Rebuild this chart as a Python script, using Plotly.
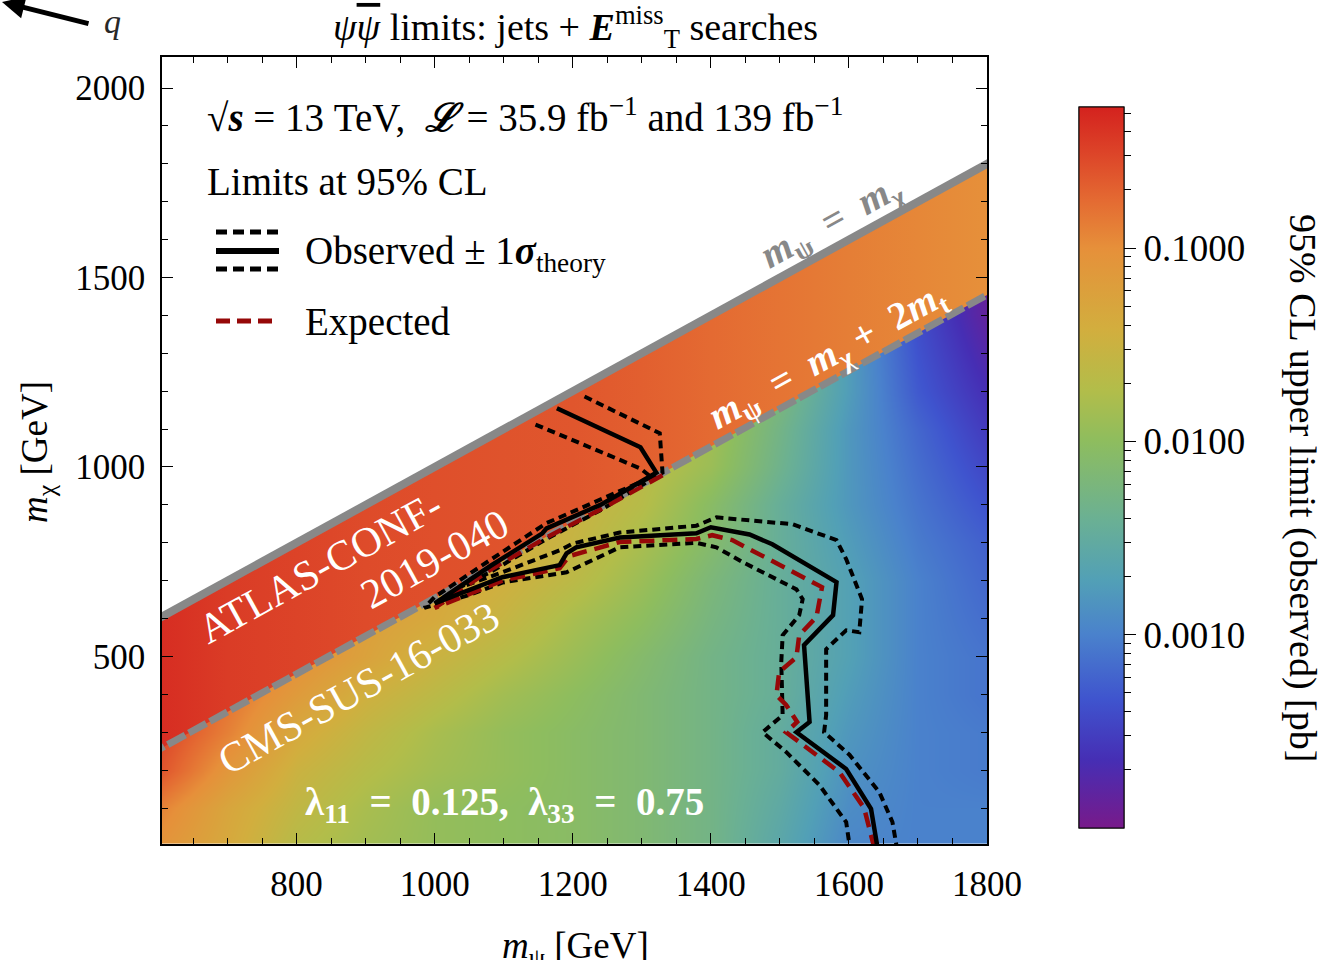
import numpy as np
import plotly.graph_objects as go
from plotly.colors import sample_colorscale

# ---------------- data ----------------
# CMS grid: 95% CL observed upper limit, stored as log10(sigma / pb)
cms_mpsi = [600, 700, 800, 900, 1000, 1100, 1200, 1300, 1400, 1500, 1600, 1700, 1800]
cms_mchi = [0, 100, 200, 300, 400, 500, 600, 700, 800, 900, 1000, 1100, 1200, 1300, 1400, 1500]
cms_log10_limit = [
    [-1.05, -1.35, -1.70, -1.85, -1.95, -2.00, -2.05, -2.15, -2.30, -2.60, -2.95, -3.00, -3.00],
    [-0.90, -1.30, -1.60, -1.80, -1.95, -2.00, -2.05, -2.15, -2.30, -2.55, -2.90, -3.00, -3.00],
    [-0.60, -1.10, -1.50, -1.70, -1.85, -1.95, -2.05, -2.15, -2.30, -2.50, -2.85, -3.00, -3.05],
    [-0.50, -0.90, -1.35, -1.60, -1.80, -1.95, -2.05, -2.15, -2.30, -2.50, -2.80, -3.00, -3.05],
    [-0.45, -0.80, -1.15, -1.45, -1.65, -1.85, -2.00, -2.15, -2.30, -2.45, -2.75, -3.00, -3.10],
    [-0.40, -0.70, -1.00, -1.25, -1.50, -1.70, -1.90, -2.10, -2.30, -2.45, -2.70, -3.00, -3.10],
    [-0.40, -0.65, -0.95, -1.20, -1.35, -1.55, -1.80, -2.00, -2.25, -2.45, -2.70, -3.00, -3.15],
    [-0.40, -0.60, -0.90, -1.15, -1.30, -1.45, -1.65, -1.90, -2.20, -2.45, -2.70, -3.00, -3.20],
    [-0.40, -0.60, -0.85, -1.10, -1.30, -1.40, -1.55, -1.80, -2.10, -2.45, -2.75, -3.05, -3.25],
    [-0.40, -0.60, -0.85, -1.10, -1.30, -1.40, -1.50, -1.70, -2.05, -2.45, -2.80, -3.10, -3.35],
    [-0.40, -0.60, -0.85, -1.10, -1.30, -1.40, -1.50, -1.65, -1.90, -2.35, -2.80, -3.15, -3.45],
    [-0.40, -0.60, -0.85, -1.10, -1.30, -1.40, -1.50, -1.65, -1.85, -2.30, -2.80, -3.20, -3.55],
    [-0.40, -0.60, -0.85, -1.10, -1.30, -1.40, -1.50, -1.65, -1.90, -2.20, -2.75, -3.30, -3.65],
    [-0.40, -0.60, -0.85, -1.10, -1.30, -1.40, -1.50, -1.65, -1.90, -2.20, -2.75, -3.35, -3.75],
    [-0.40, -0.60, -0.85, -1.10, -1.30, -1.40, -1.50, -1.65, -1.90, -2.20, -2.75, -3.40, -3.85],
    [-0.40, -0.60, -0.85, -1.10, -1.30, -1.40, -1.50, -1.65, -1.90, -2.20, -2.75, -3.40, -3.90],
]

# ATLAS band (between m_psi = m_chi and m_psi = m_chi + 2 m_t): log10(limit / pb) along m_psi
atlas_mpsi = [605, 700, 800, 900, 1000, 1100, 1200, 1300, 1400, 1500, 1600, 1700, 1800]
atlas_log10_limit = [-0.35, -0.45, -0.50, -0.55, -0.58, -0.60, -0.62, -0.68, -0.75, -0.82, -0.88, -0.94, -1.00]

m_top = 173.0
line_mpsi = [400, 2000]

# Observed contour
obs_mpsi = [1177, 1298, 1321, 1240, 1162, 1156, 1080, 1000, 1098, 1181, 1191, 1205, 1268, 1379, 1400,
            1456, 1489, 1582, 1577, 1535, 1543, 1524, 1596, 1632, 1641]
obs_mchi = [1155, 1052, 985, 900, 838, 825, 738, 640, 709, 741, 772, 788, 814, 825, 841,
            822, 796, 696, 609, 530, 327, 300, 203, 98, 0]
# Observed + 1 sigma(theory)
obs_up_mpsi = [1217, 1326, 1330, 1240, 1162, 1080, 1036, 1098, 1181, 1200, 1268, 1379, 1408,
               1518, 1582, 1596, 1619, 1615, 1596, 1567, 1567, 1564, 1601, 1644, 1663, 1669]
obs_up_mchi = [1186, 1089, 985, 886, 810, 722, 682, 722, 780, 798, 827, 845, 867,
               849, 807, 757, 651, 564, 569, 519, 345, 300, 240, 142, 63, 0]
# Observed - 1 sigma(theory)
obs_dn_mpsi = [1146, 1298, 1314, 1240, 1162, 1080, 1000, 985, 1050, 1098, 1191, 1268, 1379, 1408,
               1446, 1524, 1533, 1528, 1504, 1502, 1504, 1475, 1509, 1557, 1596, 1601]
obs_dn_mchi = [1112, 996, 973, 914, 852, 754, 657, 628, 662, 695, 722, 788, 800, 788,
               749, 677, 651, 609, 556, 485, 345, 300, 248, 161, 63, 0]
# Expected contour
exp_mpsi = [1330, 1240, 1160, 1080, 1000, 1098, 1181, 1195, 1268, 1379, 1402, 1431, 1561, 1553,
            1528, 1524, 1499, 1495, 1509, 1525, 1509, 1553, 1586, 1622, 1636]
exp_mchi = [978, 888, 812, 728, 628, 700, 733, 765, 802, 810, 820, 807, 683, 604,
            556, 498, 459, 398, 372, 327, 300, 240, 195, 100, 0]

# colour map (log10 pb)
zmin, zmax = -4.0, -0.27
colorscale = [
    [0.000, "rgb(120,26,138)"],
    [0.094, "rgb(70,46,180)"],
    [0.178, "rgb(63,84,206)"],
    [0.269, "rgb(74,130,204)"],
    [0.344, "rgb(82,160,182)"],
    [0.427, "rgb(106,176,148)"],
    [0.537, "rgb(142,189,94)"],
    [0.607, "rgb(178,189,74)"],
    [0.691, "rgb(210,174,62)"],
    [0.804, "rgb(230,144,58)"],
    [0.871, "rgb(228,106,50)"],
    [0.940, "rgb(220,66,40)"],
    [1.000, "rgb(212,34,30)"],
]

# ---------------- layout helpers ----------------
W, H = 1339, 960
PL, PR, PT, PB = 162, 987, 57, 844
def fx(p):
    return (p - PL) / (PR - PL)
def fy(p):
    return (PB - p) / (PB - PT)

FONT = "Liberation Serif"
NB = "\u00a0"
x_range = [605, 1800]
y_range = [5, 2082]

fig = go.Figure()

# CMS heatmap
fig.add_trace(go.Heatmap(
    x=cms_mpsi, y=cms_mchi, z=cms_log10_limit, zmin=zmin, zmax=zmax,
    colorscale=colorscale, zsmooth="best", hoverinfo="skip",
    colorbar=dict(
        x=fx(1079), xanchor="left", y=(fy(107) + fy(828)) / 2, yanchor="middle",
        len=fy(107) - fy(828), lenmode="fraction", thickness=45, thicknessmode="pixels",
        xpad=0, ypad=0, outlinewidth=1, outlinecolor="black",
        ticks="outside", ticklen=12, tickwidth=1.2, tickcolor="black",
        tickvals=[-3, -2, -1], ticktext=["0.0010", "0.0100", "0.1000"],
        tickfont=dict(family=FONT, size=37, color="black"),
    ),
))

# minor ticks on the colour bar (dummy trace, same scale)
minor_vals = []
for d in range(-4, 0):
    for k in range(2, 10):
        v = d + np.log10(k)
        if zmin < v < zmax:
            minor_vals.append(float(v))
fig.add_trace(go.Scatter(
    x=[None], y=[None], mode="markers", hoverinfo="skip", showlegend=False,
    marker=dict(color=[-2], cmin=zmin, cmax=zmax, colorscale=colorscale, showscale=True,
                colorbar=dict(
                    x=fx(1079), xanchor="left", y=(fy(107) + fy(828)) / 2, yanchor="middle",
                    len=fy(107) - fy(828), lenmode="fraction", thickness=45, thicknessmode="pixels",
                    xpad=0, ypad=0, outlinewidth=1, outlinecolor="black",
                    ticks="outside", ticklen=7, tickwidth=1, tickcolor="black",
                    tickvals=minor_vals, showticklabels=False)),
))

# white region above m_psi = m_chi
fig.add_trace(go.Scatter(
    x=[line_mpsi[0], line_mpsi[1], line_mpsi[1], line_mpsi[0]],
    y=[line_mpsi[0], line_mpsi[1], 3000, 3000],
    fill="toself", fillcolor="white", mode="none", hoverinfo="skip", showlegend=False))

# ATLAS band with gradient along m_psi
t_vals = [(v - zmin) / (zmax - zmin) for v in atlas_log10_limit]
band_cols = sample_colorscale(colorscale, t_vals, colortype="rgb")
band_scale = [[(m - atlas_mpsi[0]) / (atlas_mpsi[-1] - atlas_mpsi[0]), c]
              for m, c in zip(atlas_mpsi, band_cols)]
bx = [line_mpsi[0], line_mpsi[1], line_mpsi[1], line_mpsi[0]]
by = [line_mpsi[0], line_mpsi[1], line_mpsi[1] - 2 * m_top, line_mpsi[0] - 2 * m_top]
fig.add_trace(go.Scatter(
    x=bx, y=by, fill="toself", mode="none", hoverinfo="skip", showlegend=False,
    fillgradient=dict(type="horizontal", colorscale=band_scale,
                      start=atlas_mpsi[0], stop=atlas_mpsi[-1])))

# kinematic lines
fig.add_trace(go.Scatter(x=line_mpsi, y=line_mpsi, mode="lines",
                         line=dict(color="rgb(136,136,136)", width=8), hoverinfo="skip", showlegend=False))
fig.add_trace(go.Scatter(x=line_mpsi, y=[m - 2 * m_top for m in line_mpsi], mode="lines",
                         line=dict(color="rgb(136,136,136)", width=7, dash="20px,4px"),
                         hoverinfo="skip", showlegend=False))

# contours
dot = "8px,5px"
for xs, ys in [(obs_up_mpsi, obs_up_mchi), (obs_dn_mpsi, obs_dn_mchi)]:
    fig.add_trace(go.Scatter(x=xs, y=ys, mode="lines",
                             line=dict(color="black", width=4, dash=dot),
                             hoverinfo="skip", showlegend=False))
fig.add_trace(go.Scatter(x=exp_mpsi, y=exp_mchi, mode="lines",
                         line=dict(color="rgb(150,8,8)", width=4.5, dash="15px,8px"),
                         hoverinfo="skip", showlegend=False))
fig.add_trace(go.Scatter(x=obs_mpsi, y=obs_mchi, mode="lines",
                         line=dict(color="black", width=4.5),
                         hoverinfo="skip", showlegend=False))

# ---------------- annotations ----------------
ann = []
def A(text, x, y, size=34, color="black", xanchor="center", yanchor="middle",
      angle=0, xref="paper", yref="paper"):
    ann.append(dict(text=text, x=x, y=y, xref=xref, yref=yref, showarrow=False,
                    xanchor=xanchor, yanchor=yanchor, textangle=angle,
                    font=dict(family=FONT, size=size, color=color)))

A("<i>ψ</i><span style='text-decoration:overline'><i>ψ</i></span> limits:" + NB + "jets + "
  "<b><i>E</i></b><sup>miss</sup><sub>T</sub> searches",
  fx(575), fy(27), size=38)
A("√<b><i>s</i></b> = 13" + NB + "TeV," + NB + NB + "<b><i>ℒ</i></b> = 35.9" + NB + "fb<sup>−1</sup> and 139" + NB + "fb<sup>−1</sup>",
  fx(205), fy(115), size=39, xanchor="left")
A("Limits at 95% CL", fx(205), fy(182), size=39, xanchor="left")
A("Observed ± 1<b><i>σ</i></b><sub>theory</sub>", fx(303), fy(254), size=39, xanchor="left")
A("Expected", fx(303), fy(322), size=39, xanchor="left")

angle = -28.8
eq = NB + "=" + NB
A("<b><i>m</i><sub>ψ</sub>" + NB + eq + NB + "<i>m</i><sub>χ</sub></b>", 1576, 1645, size=39,
  color="rgb(136,136,136)", angle=angle, xref="x", yref="y")
A("<b><i>m</i><sub>ψ</sub>" + NB + eq + NB + "<i>m</i><sub>χ</sub>" + NB + "+" + NB + NB + "2<i>m</i><sub>t</sub></b>",
  1569, 1290, size=39, color="white", angle=angle, xref="x", yref="y")
A("ATLAS-CONF-", 835, 735, size=42, color="white", angle=angle, xref="x", yref="y")
A("2019-040", 1000, 758, size=42, color="white", angle=angle, xref="x", yref="y")
A("CMS-SUS-16-033", 890, 418, size=42, color="white", angle=angle, xref="x", yref="y")
A("<b>λ<sub>11</sub>" + NB + eq + NB + "0.125," + NB + NB + "λ<sub>33</sub>" + NB + eq + NB + "0.75</b>",
  1101, 108, size=39, color="white", xref="x", yref="y")

A("<i>m</i><sub>χ</sub> [GeV]", fx(38), fy(452), size=37, angle=-90)
A("<i>m</i><sub>ψ</sub> [GeV]", fx(575), fy(948), size=37)
A("95% CL upper limit (observed) [pb]", fx(1303), fy(488), size=38, angle=90)
A("<i>q</i>", fx(112), fy(22), size=34, color="rgb(40,40,40)")

# arrow fragment at top-left
ann.append(dict(x=fx(2), y=fy(2), xref="paper", yref="paper", ax=88, ay=22,
                axref="pixel", ayref="pixel", text="", showarrow=True,
                arrowhead=2, arrowsize=0.9, arrowwidth=5, arrowcolor="black"))

# legend symbols
shapes = []
def seg(y, dash, color, width):
    shapes.append(dict(type="line", xref="paper", yref="paper", x0=fx(216), x1=fx(279),
                       y0=fy(y), y1=fy(y), line=dict(color=color, width=width, dash=dash)))
seg(232, "11px,6px", "black", 5)
seg(251, "solid", "black", 6)
seg(269, "11px,6px", "black", 5)
seg(321, "14px,7px", "rgb(150,8,8)", 5)

axis_common = dict(
    showline=True, linecolor="black", linewidth=1.5, mirror="ticks",
    ticks="inside", ticklen=11, tickwidth=1.3, tickcolor="black",
    showgrid=False, zeroline=False,
    tickfont=dict(family=FONT, size=35, color="black"),
)
fig.update_layout(
    width=W, height=H,
    margin=dict(l=PL, r=W - PR, t=PT, b=H - PB),
    paper_bgcolor="white", plot_bgcolor="white",
    showlegend=False,
    xaxis=dict(range=x_range, tickmode="array", tickvals=[800, 1000, 1200, 1400, 1600, 1800],
               minor=dict(dtick=50, tick0=0, ticks="inside", ticklen=6, tickcolor="black", tickwidth=1),
               ticklabelstandoff=8, **axis_common),
    yaxis=dict(range=y_range, tickmode="array", tickvals=[500, 1000, 1500, 2000],
               minor=dict(dtick=100, tick0=0, ticks="inside", ticklen=6, tickcolor="black", tickwidth=1),
               ticklabelstandoff=8, **axis_common),
    annotations=ann, shapes=shapes,
)

fig.write_html("out.html")
